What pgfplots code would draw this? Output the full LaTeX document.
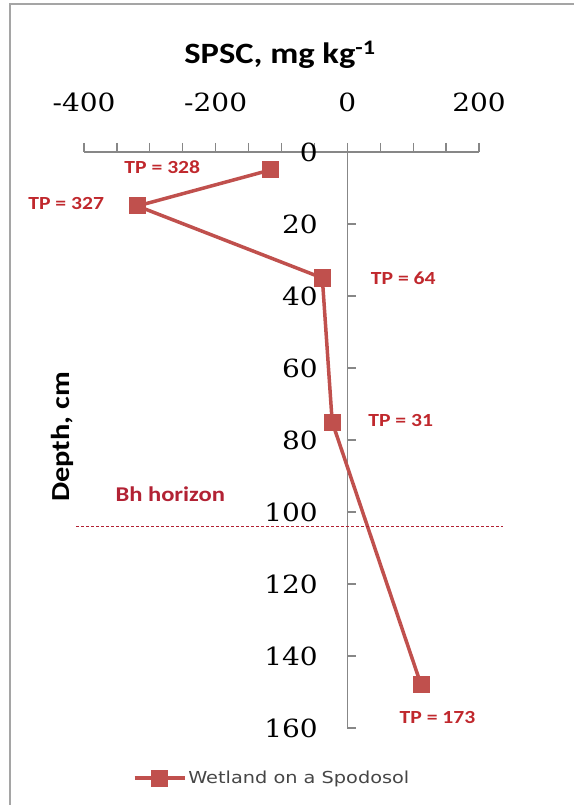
\documentclass[border=0pt]{standalone}
\usepackage{fontspec}
\usepackage{pgfplots}
\pgfplotsset{compat=1.18}
\setmainfont{Carlito}
\newfontfamily\lblfont[FakeStretch=1.17]{Carlito}
\newfontfamily\numfont[FakeStretch=1.12]{DejaVu Serif}
\newfontfamily\legfont[FakeStretch=1.17]{DejaVu Sans}
\definecolor{seriesred}{RGB}{192,80,77}
\definecolor{tpred}{RGB}{192,40,45}
\definecolor{bhred}{RGB}{178,34,52}
\definecolor{framegray}{RGB}{165,165,165}
\definecolor{axisgray}{RGB}{135,135,135}
\definecolor{legtext}{RGB}{70,70,70}

% SPSC profile of the wetland Spodosol (depth in cm, SPSC in mg/kg)
\pgfplotstableread{
spsc  depth
-117  5
-319  15
-38   35
-23   75
112   148
}\spodosol

\begin{document}
\begin{tikzpicture}[x=1pt,y=1pt]
\useasboundingbox (0,0) rectangle (574,805);
\draw[framegray, line width=1.5pt] (10,0) -- (10,801) -- (574,801);
\begin{axis}[
  at={(84pt,77pt)}, anchor=south west,
  scale only axis, width=395pt, height=576pt,
  xmin=-400, xmax=200, ymin=0, ymax=160,
  y dir=reverse,
  axis x line*=top,
  axis y line*=middle,
  hide obscured y ticks=false,
  axis line style={axisgray, line width=1.2pt, -},
  tick style={axisgray, line width=1.2pt},
  major tick length=9pt, minor tick length=9pt,
  xtick align=outside,
  ytick align=inside,
  xtick={-400,-200,0,200},
  minor x tick num=3,
  ytick={0,20,...,160},
  /pgf/number format/assume math mode=true,
  tick label style={font=\numfont\fontsize{25}{27}\selectfont, text=black},
  xticklabel style={yshift=28pt},
  yticklabel style={anchor=east, xshift=-26pt},
  clip=false,
  legend style={at={(0.476,-0.087)}, anchor=center, draw=none, fill=none,
    font=\legfont\fontsize{16.5}{18}\selectfont, text=legtext},
  legend image code/.code={
    \draw[mark repeat=2, mark phase=2, #1] plot coordinates {(0pt,0pt) (25pt,0pt) (50pt,0pt)};
  },
]
\addplot[seriesred, line width=3.5pt, mark=square*, mark size=8pt,
  mark options={solid, line width=0pt}] table[x=spsc, y=depth] {\spodosol};
\addlegendentry{Wetland on a Spodosol}

% Bh horizon boundary
\draw[bhred, line width=1pt, dash pattern=on 3pt off 2pt] (axis cs:-412,104) -- (axis cs:236,104);
\node[font=\lblfont\bfseries\fontsize{21}{23}\selectfont, text=bhred] at (axis cs:-269,95) {Bh horizon};

% total P labels
\begin{scope}[every node/.style={font=\lblfont\bfseries\fontsize{18.5}{20}\selectfont, text=tpred}]
\node at (axis cs:-281,4.2) {TP = 328};
\node at (axis cs:-427,14.2) {TP = 327};
\node at (axis cs:85,35) {TP = 64};
\node at (axis cs:81,74.7) {TP = 31};
\node at (axis cs:137,157) {TP = 173};
\end{scope}
\end{axis}
\node[font=\lblfont\bfseries\fontsize{29.5}{31}\selectfont] at (280,750) {SPSC, mg kg\textsuperscript{-1}};
\node[font=\lblfont\bfseries\fontsize{26}{28}\selectfont, rotate=90] at (62,368) {Depth, cm};
\end{tikzpicture}
\end{document}
